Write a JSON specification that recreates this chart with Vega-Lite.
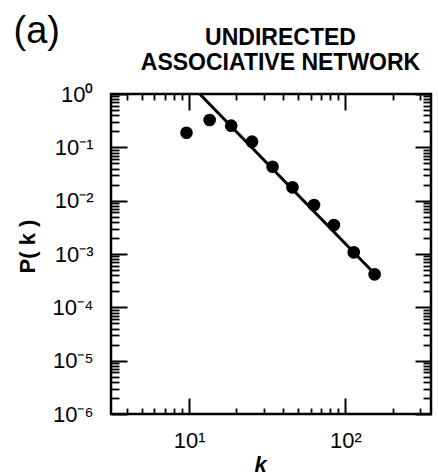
{
  "$schema": "https://vega.github.io/schema/vega-lite/v6.json",
  "width": 320,
  "height": 320,
  "autosize": {"type": "none"},
  "padding": {"left": 111, "top": 94, "right": 7, "bottom": 62},
  "config": {
    "font": "Liberation Sans",
    "view": {"stroke": "#000", "strokeWidth": 2.5},
    "axis": {"grid": false, "domain": false, "tickColor": "#000", "labelColor": "#000", "titleColor": "#000"}
  },
  "datasets": {
    "points": [
      {"k": 9.63, "P": 0.188},
      {"k": 13.54, "P": 0.3255},
      {"k": 18.6, "P": 0.2545},
      {"k": 25.28, "P": 0.1276},
      {"k": 34.18, "P": 0.0433},
      {"k": 45.8, "P": 0.0178},
      {"k": 62.9, "P": 0.0083},
      {"k": 84.3, "P": 0.0035},
      {"k": 112.9, "P": 0.001076},
      {"k": 153.5, "P": 0.000416}
    ],
    "fit": [
      {"k": 11.7, "P": 1},
      {"k": 158, "P": 0.00039}
    ]
  },
  "resolve": {"axis": {"x": "independent", "y": "independent"}},
  "layer": [
    {
      "data": {"name": "fit"},
      "mark": {"type": "line", "color": "#000", "strokeWidth": 3},
      "encoding": {
        "x": {"field": "k", "type": "quantitative",
          "scale": {"type": "log", "domain": [3.17, 352], "nice": false},
          "axis": {"orient": "bottom", "values": [4,5,6,7,8,9,20,30,40,50,60,70,80,90,200,300],
            "tickSize": -6, "tickWidth": 1.8, "labels": false, "title": null}},
        "y": {"field": "P", "type": "quantitative",
          "scale": {"type": "log", "domain": [0.000001, 1], "nice": false},
          "axis": {"orient": "left",
            "values": [0.000002,0.000003,0.000004,0.000005,0.000006,0.000007,0.000008,0.000009,
                       0.00002,0.00003,0.00004,0.00005,0.00006,0.00007,0.00008,0.00009,
                       0.0002,0.0003,0.0004,0.0005,0.0006,0.0007,0.0008,0.0009,
                       0.002,0.003,0.004,0.005,0.006,0.007,0.008,0.009,
                       0.02,0.03,0.04,0.05,0.06,0.07,0.08,0.09,
                       0.2,0.3,0.4,0.5,0.6,0.7,0.8,0.9],
            "tickSize": -8, "tickWidth": 1.8, "labels": false, "title": null}}
      }
    },
    {
      "data": {"name": "points"},
      "mark": {"type": "circle", "color": "#000", "opacity": 1, "size": 160},
      "encoding": {
        "x": {"field": "k", "type": "quantitative",
          "axis": {"orient": "bottom", "values": [10, 100], "tickSize": -16, "tickWidth": 2,
            "labelExpr": "'10' + (datum.value > 50 ? '²' : '¹')",
            "labelFontSize": 22, "labelPadding": 32, "labelBaseline": "top",
            "title": "k", "titleFontSize": 22, "titleFontWeight": "bold", "titleFontStyle": "italic",
            "titleX": 149, "titleY": 57, "titleAlign": "center", "titleBaseline": "alphabetic"}},
        "y": {"field": "P", "type": "quantitative",
          "axis": {"orient": "left", "values": [0.000001, 0.00001, 0.0001, 0.001, 0.01, 0.1, 1],
            "tickSize": -16, "tickWidth": 2,
            "labelExpr": "'10' + (datum.value < 0.5 ? '⁻' : '') + ['⁰','¹','²','³','⁴','⁵','⁶'][abs(round(log(datum.value)/LN10))]",
            "labelFontSize": 22, "labelPadding": 34, "labelAlign": "right", "labelBaseline": "middle",
            "title": "P( k )", "titleFontSize": 22, "titleFontWeight": "bold",
            "titleAngle": 270, "titleX": -84, "titleY": 152, "titleAlign": "center", "titleBaseline": "middle"}}
      }
    },
    {
      "data": {"name": "points"},
      "mark": {"type": "circle", "opacity": 0},
      "encoding": {
        "x": {"field": "k", "type": "quantitative",
          "axis": {"orient": "top", "values": [10, 100], "tickSize": -16, "tickWidth": 2, "labels": false,
            "title": ["UNDIRECTED", "ASSOCIATIVE NETWORK"], "titleFontSize": 23, "titleFontWeight": "bold",
            "titleLineHeight": 25, "titleX": 169, "titleY": -50, "titleAlign": "center", "titleBaseline": "alphabetic"}},
        "y": {"field": "P", "type": "quantitative",
          "axis": {"orient": "right", "values": [0.000001, 0.00001, 0.0001, 0.001, 0.01, 0.1, 1],
            "tickSize": -16, "tickWidth": 2, "labels": false,
            "title": "(a)", "titleFontSize": 38, "titleFontWeight": "normal", "titleAngle": 0,
            "titleX": -418, "titleY": -52, "titleAlign": "left", "titleBaseline": "alphabetic"}}
      }
    },
    {
      "data": {"name": "fit"},
      "mark": {"type": "line", "opacity": 0},
      "encoding": {
        "x": {"field": "k", "type": "quantitative",
          "axis": {"orient": "top", "values": [4,5,6,7,8,9,20,30,40,50,60,70,80,90,200,300],
            "tickSize": -6, "tickWidth": 1.8, "labels": false, "title": null}},
        "y": {"field": "P", "type": "quantitative",
          "axis": {"orient": "right",
            "values": [0.000002,0.000003,0.000004,0.000005,0.000006,0.000007,0.000008,0.000009,
                       0.00002,0.00003,0.00004,0.00005,0.00006,0.00007,0.00008,0.00009,
                       0.0002,0.0003,0.0004,0.0005,0.0006,0.0007,0.0008,0.0009,
                       0.002,0.003,0.004,0.005,0.006,0.007,0.008,0.009,
                       0.02,0.03,0.04,0.05,0.06,0.07,0.08,0.09,
                       0.2,0.3,0.4,0.5,0.6,0.7,0.8,0.9],
            "tickSize": -8, "tickWidth": 1.8, "labels": false, "title": null}}
      }
    }
  ]
}
